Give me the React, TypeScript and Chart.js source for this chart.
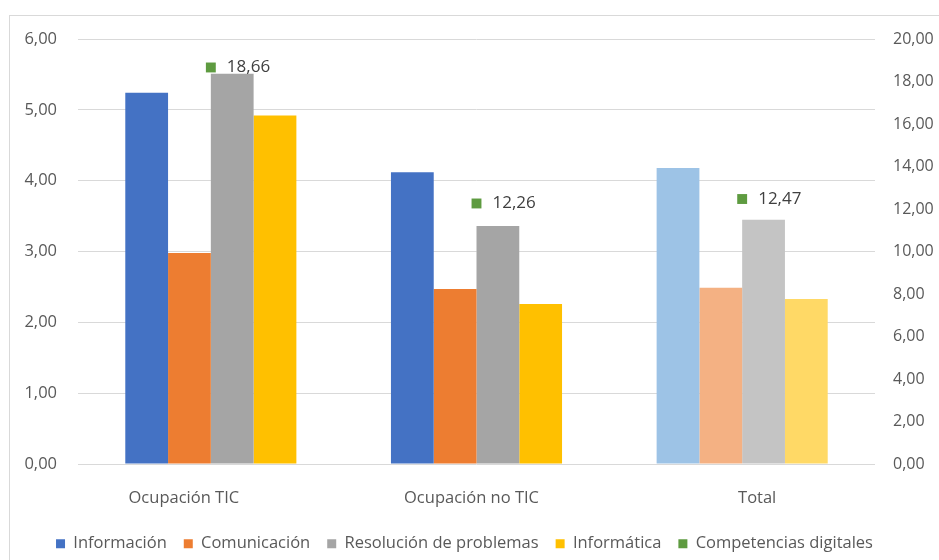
import React, { useEffect, useRef } from "react";
import { Chart, registerables } from "chart.js";

Chart.register(...registerables);

const categories = ["Ocupación TIC", "Ocupación no TIC", "Total"];
const informacion = [5.24, 4.12, 4.18];
const comunicacion = [2.98, 2.47, 2.49];
const resolucion = [5.51, 3.36, 3.45];
const informatica = [4.92, 2.26, 2.33];
const competencias = [18.66, 12.26, 12.47];
const leftTicks = { min: 0, max: 6, step: 1 };
const rightTicks = { min: 0, max: 20, step: 2 };

const seriesNames = [
  "Información",
  "Comunicación",
  "Resolución de problemas",
  "Informática",
  "Competencias digitales",
];
const mainColors = ["#4472C4", "#ED7D31", "#A5A5A5", "#FFC000", "#5E9B40"];
const lightColors = ["#9DC3E6", "#F4B183", "#C4C4C4", "#FFD966"];

const fmt = (v: number) => v.toFixed(2).replace(".", ",");
const FONT = "'Open Sans', 'Noto Sans', sans-serif";
const TEXT = "#595959";
// horizontal shift of each category label relative to its group centre
const catLabelShift = [-27, -5, 15];

const labelPlugin = {
  id: "pointLabels",
  afterLayout(chart: any) {
    if (chart.legend) {
      chart.legend.left -= 10;
      chart.legend.right -= 10;
    }
  },
  afterDatasetsDraw(chart: any) {
    const idx = 4;
    const meta = chart.getDatasetMeta(idx);
    const ctx = chart.ctx;
    ctx.save();
    ctx.font = `17px ${FONT}`;
    ctx.fillStyle = "#404040";
    ctx.textAlign = "left";
    ctx.textBaseline = "middle";
    meta.data.forEach((pt: any, i: number) => {
      const v = chart.data.datasets[idx].data[i] as number;
      ctx.fillText(fmt(v), pt.x + 16, pt.y);
    });
    // category labels
    const xs = chart.scales.x;
    ctx.font = `16.5px ${FONT}`;
    ctx.fillStyle = TEXT;
    ctx.textAlign = "center";
    chart.data.labels.forEach((lab: string, i: number) => {
      ctx.fillText(lab, xs.getPixelForValue(i) + catLabelShift[i], xs.top + 34);
    });
    ctx.restore();
  },
};

export default function App() {
  const ref = useRef<HTMLCanvasElement | null>(null);

  useEffect(() => {
    if (!ref.current) return;
    const barSet = (i: number, data: number[]) => ({
      type: "bar" as const,
      label: seriesNames[i],
      data,
      backgroundColor: [mainColors[i], mainColors[i], lightColors[i]],
      yAxisID: "y",
      order: 1,
      categoryPercentage: 0.644,
      barPercentage: 1,
    });
    const chart = new Chart(ref.current, {
      type: "bar",
      data: {
        labels: categories,
        datasets: [
          barSet(0, informacion),
          barSet(1, comunicacion),
          barSet(2, resolucion),
          barSet(3, informatica),
          {
            type: "line" as const,
            label: seriesNames[4],
            data: competencias,
            yAxisID: "y1",
            showLine: false,
            pointStyle: "rect",
            pointRadius: 7,
            pointBackgroundColor: mainColors[4],
            pointBorderColor: mainColors[4],
            pointBorderWidth: 0,
            backgroundColor: mainColors[4],
            borderColor: mainColors[4],
            order: 0,
          } as any,
        ],
      },
      options: {
        animation: false,
        responsive: true,
        maintainAspectRatio: false,
        layout: { autoPadding: false, padding: { top: 23, left: 0, right: 0, bottom: 0 } },
        plugins: {
          tooltip: { enabled: false },
          legend: {
            position: "bottom",
            labels: {
              font: { family: FONT, size: 16.5 },
              color: TEXT,
              boxWidth: 9,
              boxHeight: 9,
              padding: 17,
              generateLabels: (c: any) =>
                c.data.datasets.map((d: any, i: number) => ({
                  text: d.label,
                  fillStyle: mainColors[i],
                  strokeStyle: mainColors[i],
                  lineWidth: 0,
                  hidden: false,
                  datasetIndex: i,
                  fontColor: TEXT,
                })),
            },
          },
        },
        scales: {
          x: {
            grid: { display: false, drawTicks: false },
            border: { display: false },
            ticks: { display: false },
            afterFit: (s: any) => {
              s.height = 54.5;
            },
          },
          y: {
            position: "left",
            min: leftTicks.min,
            max: leftTicks.max,
            ticks: {
              stepSize: leftTicks.step,
              font: { family: FONT, size: 16.5 },
              color: TEXT,
              padding: 21,
              callback: (v: any) => fmt(Number(v)),
            },
            grid: { color: "#D9D9D9", lineWidth: 1, drawTicks: false },
            border: { display: false },
            afterFit: (s: any) => {
              s.width = 68;
              s.paddingTop = 10;
              s.paddingBottom = 10;
            },
          },
          y1: {
            position: "right",
            min: rightTicks.min,
            max: rightTicks.max,
            ticks: {
              stepSize: rightTicks.step,
              font: { family: FONT, size: 16 },
              color: TEXT,
              padding: 18,
              callback: (v: any) => fmt(Number(v)),
            },
            grid: { display: false, drawTicks: false },
            border: { display: false },
            afterFit: (s: any) => {
              s.width = 64;
              s.paddingTop = 10;
              s.paddingBottom = 10;
            },
          },
        },
      },
      plugins: [labelPlugin],
    } as any);
    return () => chart.destroy();
  }, []);

  return (
    <div
      style={{
        position: "absolute",
        left: 9,
        top: 15,
        width: 930,
        height: 545,
        borderTop: "1px solid #D9D9D9",
        borderLeft: "1px solid #D9D9D9",
        background: "#fff",
        overflow: "hidden",
      }}
    >
      <div style={{ position: "relative", width: 929, height: 546 }}>
        <canvas ref={ref} />
      </div>
    </div>
  );
}
